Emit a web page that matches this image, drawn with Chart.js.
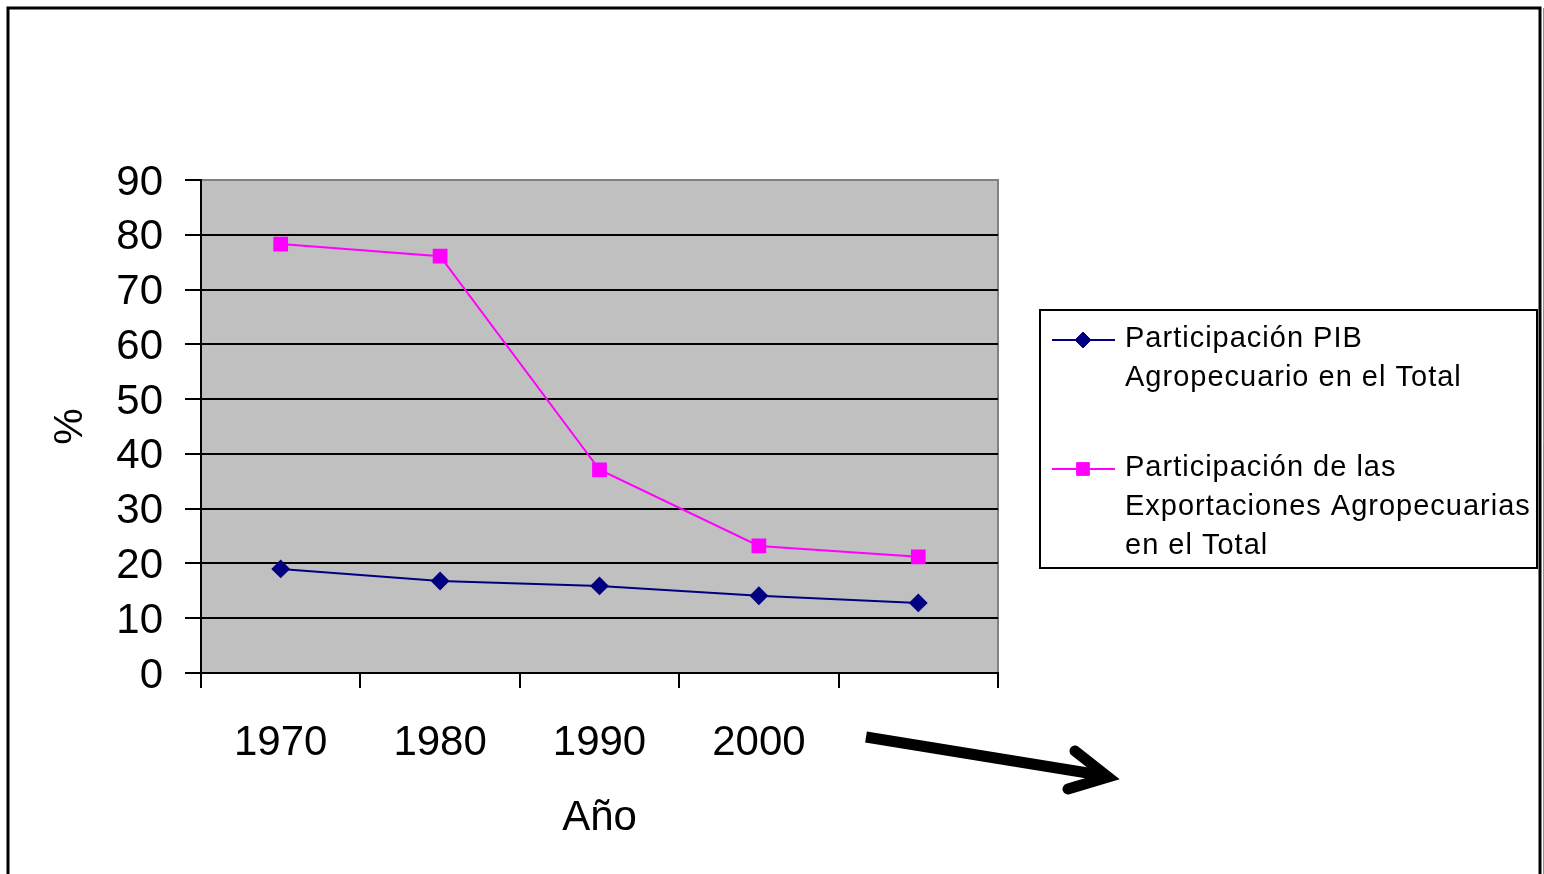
<!DOCTYPE html>
<html>
<head>
<meta charset="utf-8">
<script src="https://cdn.jsdelivr.net/npm/chart.js@4/dist/chart.umd.min.js"></script>
<style>
  html, body { margin: 0; padding: 0; background: #fff; }
  #wrap { width: 1544px; height: 874px; }
</style>
</head>
<body>
<div id="wrap"><canvas id="myChart" width="1544" height="874"></canvas></div>
<script>
// data
var years = ['1970', '1980', '1990', '2000', ''];
var pibAgro = [19.0, 16.8, 15.9, 14.1, 12.8];
var exportAgro = [78.3, 76.1, 37.1, 23.2, 21.2];
var yTicks = [0, 10, 20, 30, 40, 50, 60, 70, 80, 90];
var legendPib = ['Participación PIB', 'Agropecuario en el Total'];
var legendExport = ['Participación de las', 'Exportaciones Agropecuarias', 'en el Total'];

var FONT = 'Liberation Sans, Arial, sans-serif';

// gray plot area
var backgroundPlugin = {
  id: 'background',
  beforeDraw: function(chart) {
    var c = chart.ctx;
    var a = chart.chartArea;
    c.save();
    c.fillStyle = '#C0C0C0';
    c.fillRect(a.left, a.top, a.right - a.left, a.bottom - a.top);
    c.strokeStyle = '#808080';
    c.lineWidth = 2;
    c.strokeRect(a.left, a.top, a.right - a.left, a.bottom - a.top);
    c.restore();
  }
};

// page frame, legend and arrow
var extrasPlugin = {
  id: 'extras',
  afterDraw: function(chart) {
    var c = chart.ctx;
    c.save();

    c.strokeStyle = '#000';
    c.lineWidth = 3;
    c.beginPath();
    c.moveTo(8, 880);
    c.lineTo(8, 8);
    c.lineTo(1540, 8);
    c.lineTo(1540, 880);
    c.stroke();
    c.strokeStyle = '#909090';
    c.lineWidth = 1;
    c.beginPath();
    c.moveTo(1543.5, 8);
    c.lineTo(1543.5, 880);
    c.stroke();

    // legend box
    c.strokeStyle = '#000';
    c.lineWidth = 2;
    c.strokeRect(1040, 310, 497, 258);

    var entries = [
      { ds: chart.data.datasets[0], lines: legendPib, y: 339 },
      { ds: chart.data.datasets[1], lines: legendExport, y: 468 }
    ];
    entries.forEach(function(e) {
      c.strokeStyle = e.ds.borderColor;
      c.lineWidth = 2;
      c.beginPath();
      c.moveTo(1052, e.y + 1);
      c.lineTo(1115, e.y + 1);
      c.stroke();
      c.fillStyle = e.ds.pointBackgroundColor;
      c.strokeStyle = e.ds.pointBorderColor;
      c.lineWidth = 1;
      Chart.helpers.drawPoint(c, { pointStyle: e.ds.pointStyle, radius: e.ds.pointRadius, borderWidth: 1 }, 1083, e.y + 1);
      c.fillStyle = '#000';
      c.font = '29px ' + FONT;
      c.letterSpacing = '1px';
      c.textBaseline = 'middle';
      c.textAlign = 'left';
      e.lines.forEach(function(t, i) {
        c.fillText(t, 1125, e.y + i * 39);
      });
      c.letterSpacing = '0px';
    });

    // arrow below the last category
    c.strokeStyle = '#000';
    c.lineWidth = 11;
    c.lineCap = 'butt';
    c.beginPath();
    c.moveTo(866, 737);
    c.lineTo(1100, 775);
    c.stroke();
    c.lineCap = 'round';
    c.lineJoin = 'miter';
    c.beginPath();
    c.moveTo(1075, 751);
    c.lineTo(1108, 777);
    c.lineTo(1068, 789);
    c.stroke();

    c.restore();
  }
};

var ctx = document.getElementById('myChart').getContext('2d');

// eslint-disable-next-line no-unused-vars
var chart = new Chart(ctx, {
  type: 'line',
  data: {
    labels: years,
    datasets: [{
      label: legendPib.join(' '),
      data: pibAgro,
      borderColor: '#000080',
      backgroundColor: '#000080',
      pointBackgroundColor: '#000080',
      pointBorderColor: '#000080',
      pointStyle: 'rectRot',
      pointRadius: 8,
      borderWidth: 2
    },
    {
      label: legendExport.join(' '),
      data: exportAgro,
      borderColor: '#FF00FF',
      backgroundColor: '#FF00FF',
      pointBackgroundColor: '#FF00FF',
      pointBorderColor: '#FF00FF',
      pointStyle: 'rect',
      pointRadius: 9,
      borderWidth: 2
    }]
  },
  options: {
    responsive: false,
    animation: false,
    layout: { padding: { left: 0, top: 180, right: 546, bottom: 0 } },
    plugins: {
      legend: { display: false },
      tooltip: { enabled: false }
    },
    scales: {
      x: {
        offset: true,
        grid: { offset: true, drawOnChartArea: false, color: '#000', lineWidth: 2, tickLength: 15 },
        border: { color: '#000', width: 2 },
        ticks: { color: '#000', font: { family: FONT, size: 42 }, padding: 30, maxRotation: 0 },
        title: { display: true, text: 'Año', color: '#000', font: { family: FONT, size: 42 }, padding: { top: 0, bottom: 30 } },
        afterFit: function(scale) { scale.height = 874 - 673; }
      },
      y: {
        min: 0,
        max: 90,
        afterBuildTicks: function(scale) {
          scale.ticks = yTicks.map(function(v) { return { value: v }; });
        },
        grid: {
          color: function(c) { return c.tick && c.tick.value === 90 ? '#808080' : '#000'; },
          lineWidth: 2,
          tickLength: 16,
          tickColor: '#000'
        },
        border: { color: '#000', width: 2 },
        ticks: { color: '#000', font: { family: FONT, size: 42 }, padding: 22, labelOffset: 3 },
        title: { display: true, text: '%', color: '#000', font: { family: FONT, size: 41 }, padding: { top: 46, bottom: 0 } },
        afterFit: function(scale) { scale.width = 201; }
      }
    }
  },
  plugins: [backgroundPlugin, extrasPlugin]
});
</script>
</body>
</html>
